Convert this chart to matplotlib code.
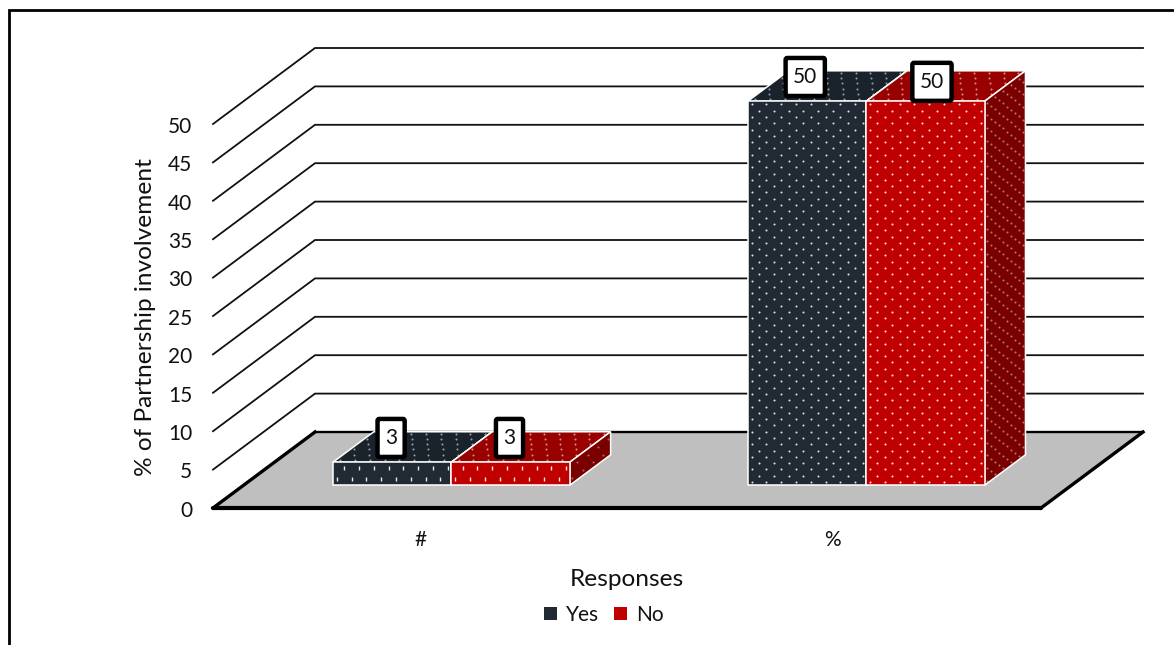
import numpy as np
import matplotlib
matplotlib.use('Agg')
import matplotlib.pyplot as plt
from matplotlib.patches import Polygon, Patch

plt.rcParams['font.family'] = ['Lato', 'DejaVu Sans']

# data
categories = ['#', '%']
series_names = ['Yes', 'No']
yes_values = [3, 50]
no_values = [3, 50]
y_ticks = [0, 5, 10, 15, 20, 25, 30, 35, 40, 45, 50]

# figure geometry in pixels
W, H = 1174, 645
X0_PX, Y0_PX = 213, 508   # front left corner of the floor
X_UNIT = 414.0            # pixels per category
Y_UNIT = 7.68             # pixels per value unit

# oblique depth of the box, in data units
DEPTH_X = 102 / X_UNIT
DEPTH_Y = 76 / Y_UNIT
BAR_W = 0.286
BAR_D0, BAR_D1 = 0.30, 0.70
BAR_CENTERS = [0.502, 1.504]
LABEL_X = [0.502, 1.497]

fig = plt.figure(figsize=(W / 100, H / 100), dpi=100)
ax = fig.add_axes([0, 0, 1, 1])
ax.set_xlim(-X0_PX / X_UNIT, (W - X0_PX) / X_UNIT)
ax.set_ylim((Y0_PX - H) / Y_UNIT, Y0_PX / Y_UNIT)
ax.axis('off')


def proj(x, y, d):
    # front plane point pushed back by depth d (0..1)
    return (x + d * DEPTH_X, y + d * DEPTH_Y)


def face(pts, color, z):
    ax.add_patch(Polygon(pts, closed=True, facecolor=color, edgecolor='white',
                         linewidth=1.1, zorder=z, joinstyle='miter'))


def dots(origin, u, v, nu, nv, z, alpha=0.85, marker='o', size=2.2):
    # staggered dot pattern over a parallelogram
    px, py = [], []
    for j in range(nv):
        shift = 0.5 if j % 2 else 0.0
        for i in range(nu):
            fu = (i + 0.25 + shift) / nu
            fv = (j + 0.5) / nv
            px.append(origin[0] + fu * u[0] + fv * v[0])
            py.append(origin[1] + fu * u[1] + fv * v[1])
    if marker == '|':
        ax.scatter(px, py, s=size, marker=marker, c='white', linewidths=1.0,
                   alpha=alpha, zorder=z)
    else:
        ax.scatter(px, py, s=size, marker=marker, c='white', linewidths=0,
                   alpha=alpha, zorder=z)


def draw_bar(x, value, front, top, side, z):
    a = proj(x, 0, BAR_D0)
    b = proj(x + BAR_W, 0, BAR_D0)
    c = proj(x + BAR_W, value, BAR_D0)
    d = proj(x, value, BAR_D0)
    e = proj(x + BAR_W, value, BAR_D1)
    f = proj(x, value, BAR_D1)
    g = proj(x + BAR_W, 0, BAR_D1)

    face([d, c, e, f], top, z)
    face([b, g, e, c], side, z)
    face([a, b, c, d], front, z + 1)

    w_px = BAR_W * X_UNIT
    h_px = value * Y_UNIT
    nu = int(round(w_px / 15))
    du = (DEPTH_X * (BAR_D1 - BAR_D0), DEPTH_Y * (BAR_D1 - BAR_D0))
    dots(d, (c[0] - d[0], 0), du, nu, 6, z + 0.5, alpha=0.55)
    if h_px < 40:
        dots(a, (b[0] - a[0], 0), (0, value), nu, 2, z + 1.5, marker='|', size=9, alpha=0.9)
        dots(b, du, (0, value), 4, 2, z + 0.5, alpha=0.4)
    else:
        dots(a, (b[0] - a[0], 0), (0, value), nu, int(h_px / 6.2), z + 1.5)
        dots(b, du, (0, value), 5, int(h_px / 6.2), z + 0.5, alpha=0.45)


# floor
ax.add_patch(Polygon([proj(0, 0, 0), proj(2, 0, 0), proj(2, 0, 1), proj(0, 0, 1)],
                     closed=True, facecolor='#bfbfbf', edgecolor='none', zorder=1))
ax.plot(*zip(proj(0, 0, 1), proj(2, 0, 1)), color='black', lw=1.7, zorder=2)
ax.plot(*zip(proj(0, 0, 0), proj(0, 0, 1)), color='black', lw=2.4, zorder=2)
ax.plot(*zip(proj(2, 0, 0), proj(2, 0, 1)), color='black', lw=2.4, zorder=2)
ax.plot(*zip(proj(0, 0, 0), proj(2, 0, 0)), color='black', lw=3.0, zorder=2,
        solid_capstyle='round')

# gridlines on the side and back walls
for t in y_ticks[1:]:
    ax.plot(*zip(proj(0, t, 0), proj(0, t, 1), proj(2, t, 1)), color='#111111',
            lw=1.3, zorder=1.5, solid_joinstyle='miter')

# tick labels
for t in y_ticks:
    ax.annotate(str(t), (0, t), xytext=(-15, -2), textcoords='offset points',
                ha='right', va='center', fontsize=15, color='#111111')

# bars
for i in range(len(categories)):
    x = BAR_CENTERS[i]
    draw_bar(x - BAR_W, yes_values[i], '#212934', '#1a222b', '#1a222b', 3)
    draw_bar(x, no_values[i], '#c00000', '#990000', '#7a0000', 6)
    ax.text(LABEL_X[i], -4.2, categories[i], ha='center', va='center',
            fontsize=15, color='#111111')

# value labels sitting on the top faces
yes_shift = [(-15.5, 6.5), (-16, 6.5)]
no_shift = [(-15.5, 6.5), (-10, 3)]
for i in range(len(categories)):
    x = BAR_CENTERS[i]
    for val, x_left, (sx, sy) in ((yes_values[i], x - BAR_W, yes_shift[i]),
                                  (no_values[i], x, no_shift[i])):
        cx, cy = proj(x_left + BAR_W / 2, val, (BAR_D0 + BAR_D1) / 2)
        label = ax.annotate(str(val), (cx, cy), xytext=(sx, sy), textcoords='offset points',
                            ha='center', va='center', fontsize=15, color='#111111', zorder=20,
                            bbox=dict(boxstyle='round,pad=0.36,rounding_size=0.08', fc='white',
                                      ec='black', lw=3.2))
        label.get_bbox_patch().set_mutation_aspect(1.2)

# axis titles
ax.text(-67 / X_UNIT, 191 / Y_UNIT, '% of Partnership involvement', rotation=90,
        ha='center', va='center', fontsize=17.6, color='#111111')
ax.text(414 / X_UNIT, -71.5 / Y_UNIT, 'Responses', ha='center', va='center',
        fontsize=17.6, color='#111111')

# legend
handles = [Patch(facecolor='#212934', label=series_names[0]),
           Patch(facecolor='#c00000', label=series_names[1])]
ax.legend(handles=handles, ncol=2, frameon=False, fontsize=15, loc='center',
          bbox_to_anchor=(604 / W, 1 - 615 / H), handlelength=0.6, handleheight=0.6,
          handletextpad=0.45, columnspacing=0.7, labelcolor='#111111')

# outer frame, open at the bottom
ax.plot([(9.5 - X0_PX) / X_UNIT, (9.5 - X0_PX) / X_UNIT, (W - X0_PX) / X_UNIT],
        [(Y0_PX - H) / Y_UNIT, (Y0_PX - 10) / Y_UNIT, (Y0_PX - 10) / Y_UNIT],
        color='black', lw=2.0, solid_joinstyle='miter', clip_on=False)

fig.savefig('out.png', dpi=100)
